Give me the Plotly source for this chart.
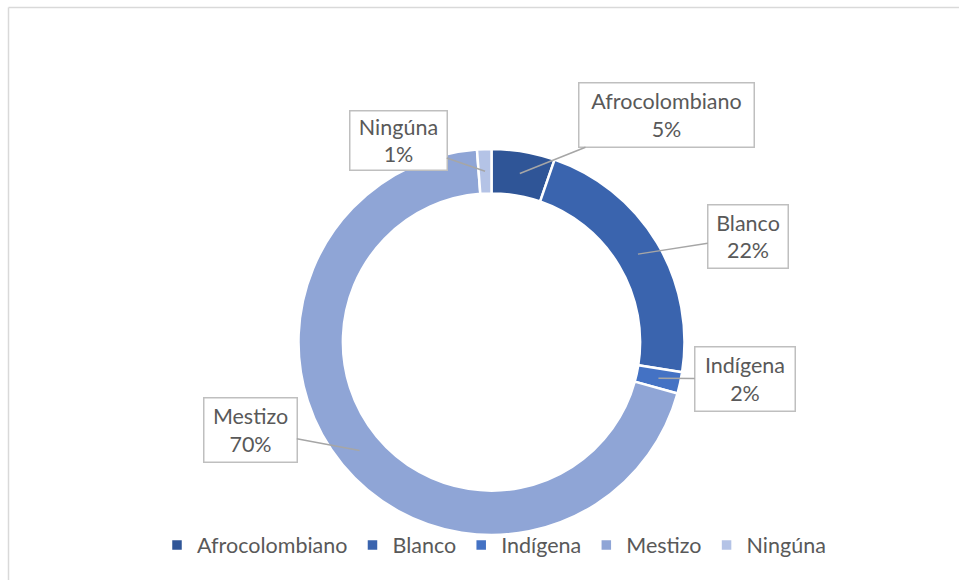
import math
import plotly.graph_objects as go

# ---- data ----
categories = ["Afrocolombiano", "Blanco", "Indígena", "Mestizo", "Ningúna"]
values = [5.3, 22.2, 1.8, 69.5, 1.2]
colors = ["#2F5597", "#3A64AE", "#4472C4", "#8FA5D6", "#B4C3E6"]

W, H = 959, 580
CX, CY, R = 491.5, 342.0, 193.0
HOLE = 0.77
TEXT = "#595959"
FONT = "Lato"
FS = 21.5

fig = go.Figure(go.Pie(
    labels=categories, values=values, sort=False, direction="clockwise",
    hole=HOLE, textinfo="none", hoverinfo="label+percent",
    marker=dict(colors=colors, line=dict(color="white", width=2.5)),
    domain=dict(x=[(CX - R) / W, (CX + R) / W], y=[1 - (CY + R) / H, 1 - (CY - R) / H]),
))

# callout box centres (pixels) and sizes
box_centers = {"Afrocolombiano": (666, 115), "Ningúna": (398, 141), "Blanco": (748, 237),
               "Indígena": (745, 379), "Mestizo": (250, 430)}
box_sizes = {"Afrocolombiano": (177, 66), "Ningúna": (99, 61), "Blanco": (82, 65),
             "Indígena": (102, 66), "Mestizo": (95, 66)}

total = sum(values)
cum = 0.0
r_mid = R * (1 + HOLE) / 2
for cat, v in zip(categories, values):
    mid = (cum + v / 2) / total * 2 * math.pi
    cum += v
    tx = CX + r_mid * math.sin(mid)
    ty = CY - r_mid * math.cos(mid)
    bx, by = box_centers[cat]
    bw, bh = box_sizes[cat]
    pct = round(v / total * 100)
    fig.add_annotation(
        x=tx / W, y=1 - ty / H, xref="paper", yref="paper",
        ax=bx - tx, ay=by - ty,
        text=f"{cat}<br>{pct}%", showarrow=True, arrowhead=0, arrowwidth=1.5,
        arrowcolor="#A6A6A6", standoff=0, startstandoff=0,
        bgcolor="white", bordercolor="#BFBFBF", borderwidth=1.5, borderpad=0,
        width=bw - 3, height=bh - 3, align="center", valign="middle",
        font=dict(family=FONT, size=FS, color=TEXT),
    )

# chart area border (left and top lines)
fig.add_shape(type="line", xref="paper", yref="paper", x0=8.5 / W, x1=1.01, y0=1 - 7.5 / H, y1=1 - 7.5 / H,
              line=dict(color="#D9D9D9", width=1.5))
fig.add_shape(type="line", xref="paper", yref="paper", x0=8.5 / W, x1=8.5 / W, y0=-0.01, y1=1 - 7.5 / H,
              line=dict(color="#D9D9D9", width=1.5))

fig.update_layout(
    width=W, height=H, margin=dict(l=0, r=0, t=0, b=0),
    paper_bgcolor="white", plot_bgcolor="white",
    font=dict(family=FONT, size=FS, color=TEXT),
    showlegend=True,
    legend=dict(orientation="h", x=494 / W, xanchor="center", y=1 - 545 / H, yanchor="middle",
                font=dict(family=FONT, size=FS, color=TEXT), itemwidth=30, traceorder="normal",
                bgcolor="rgba(0,0,0,0)", tracegroupgap=0),
)

fig.write_html("out.html", config={"displayModeBar": False},
               post_script="document.body.style.margin='0';document.body.style.overflow='hidden';")
